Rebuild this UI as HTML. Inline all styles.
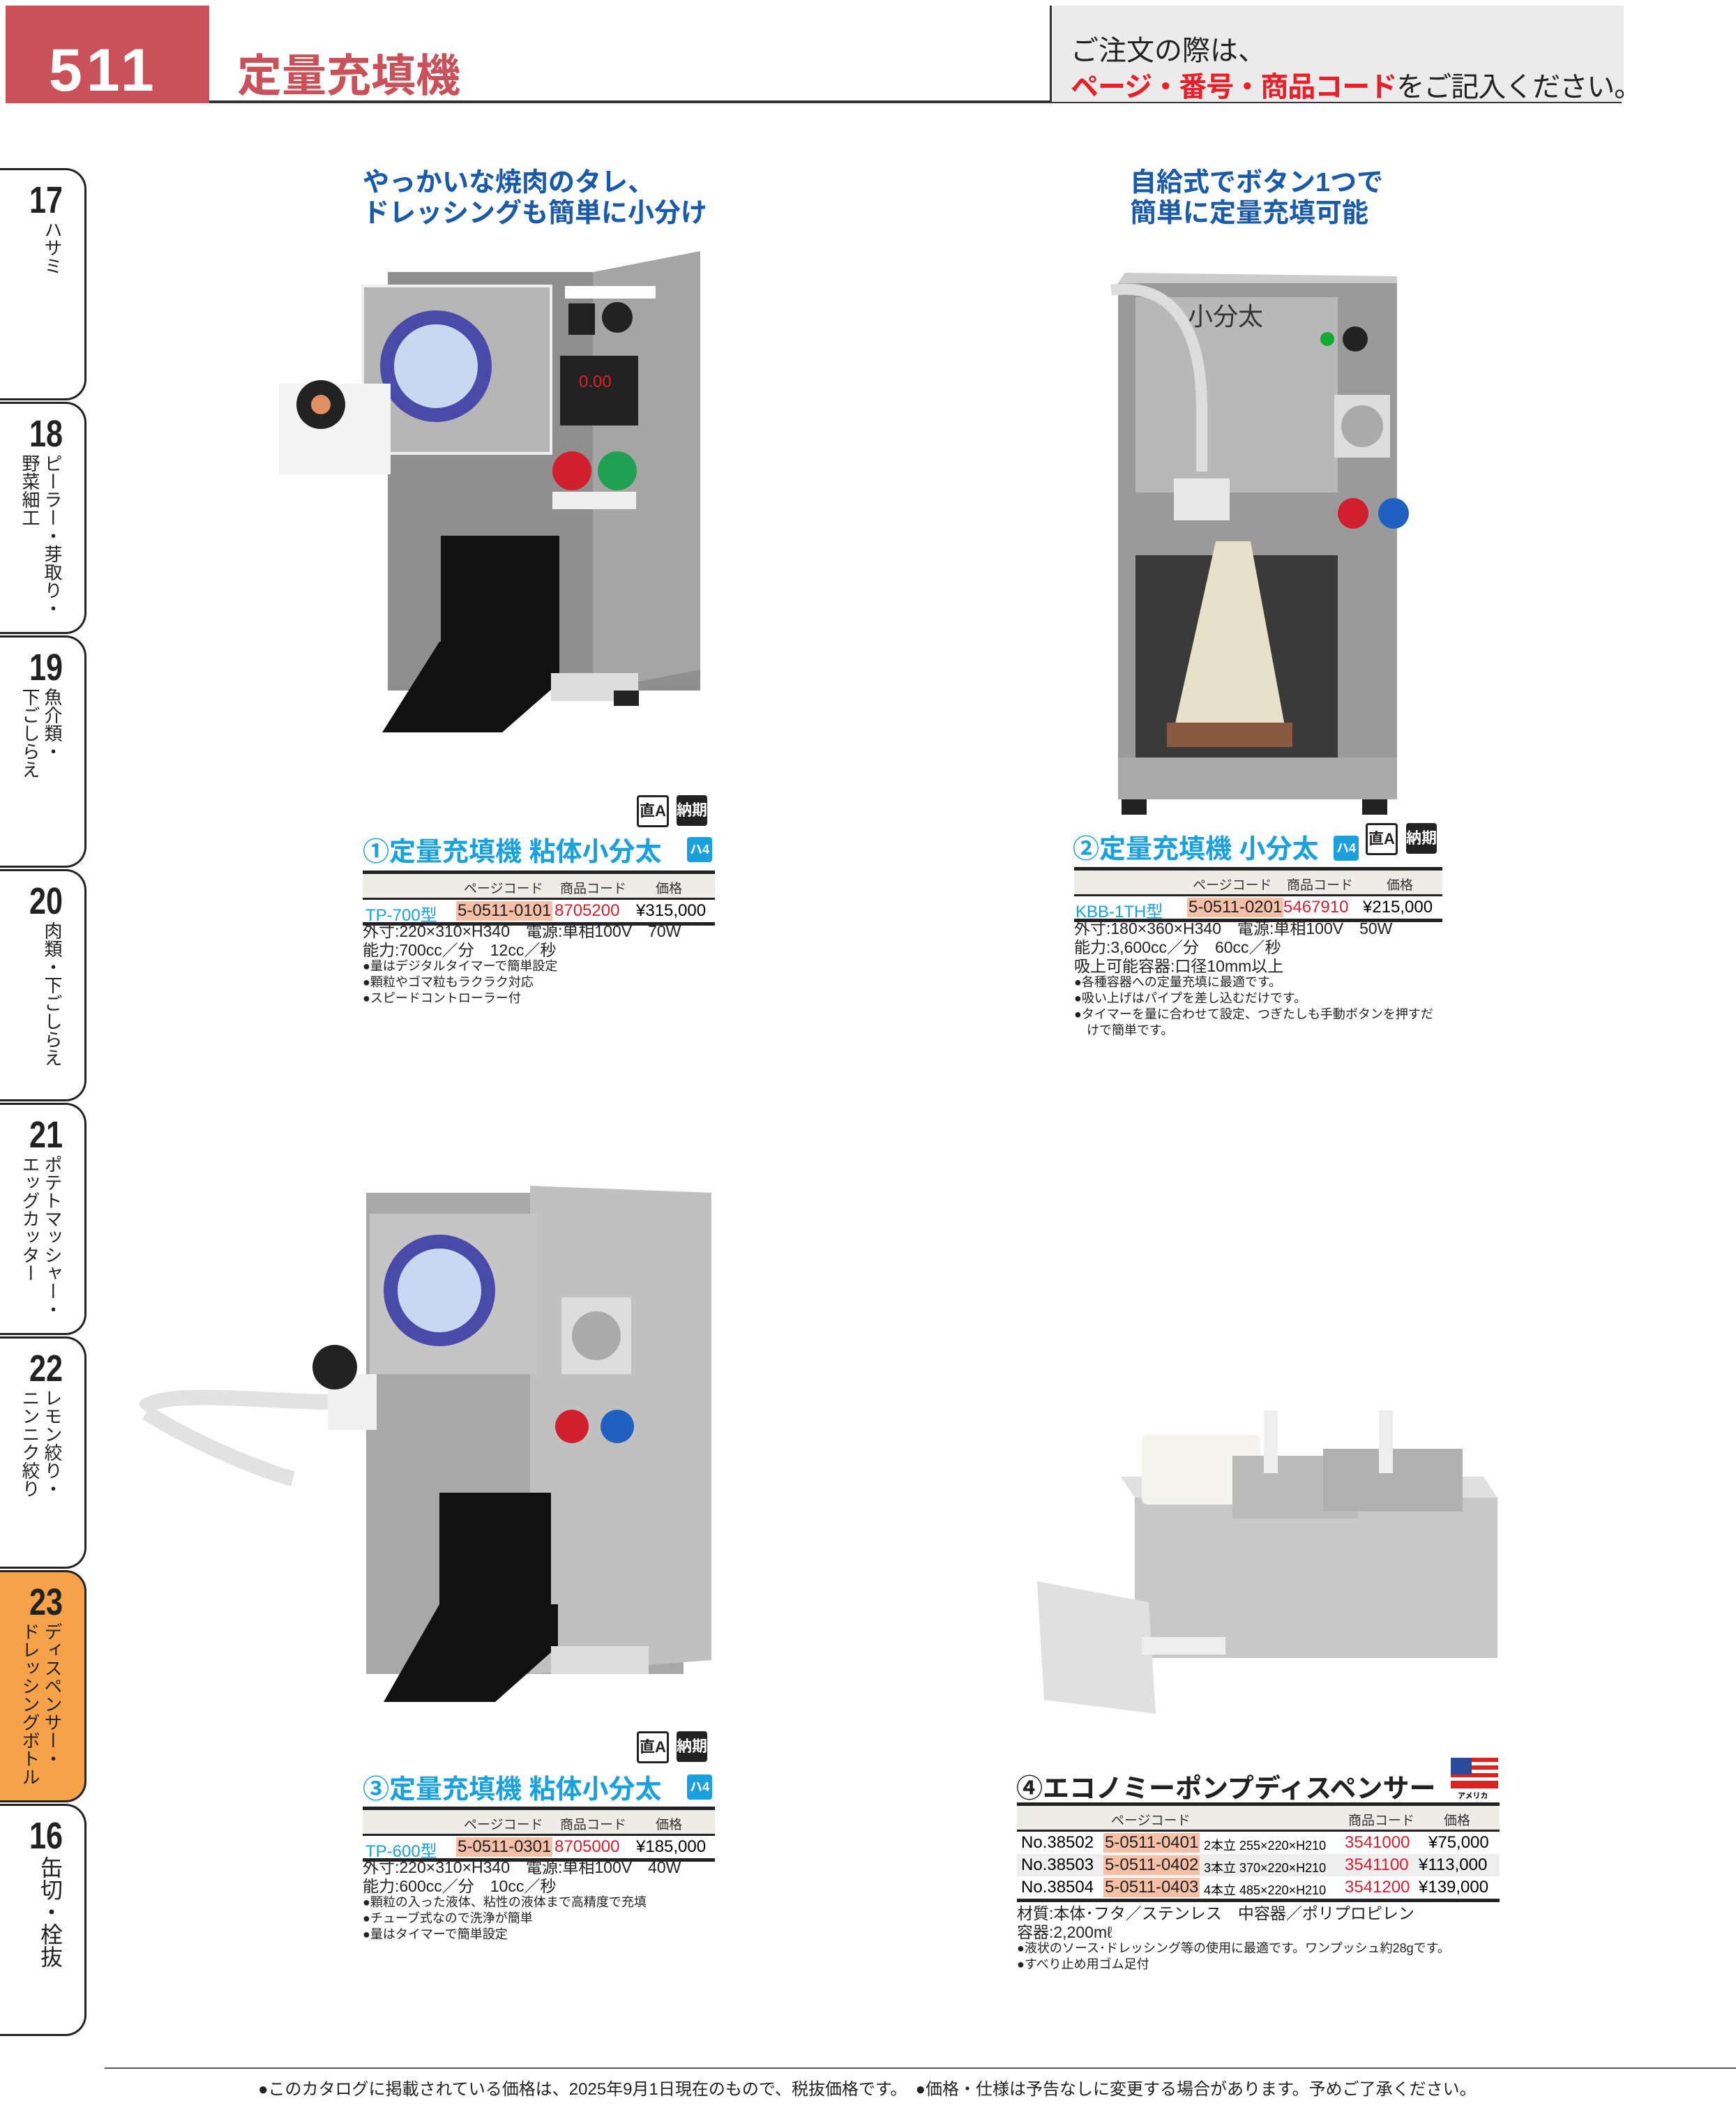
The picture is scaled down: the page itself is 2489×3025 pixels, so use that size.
<!DOCTYPE html>
<html><head><meta charset="utf-8"><style>
body{margin:0;width:2489px;height:3025px;background:#fff;position:relative;overflow:hidden;font-family:"Liberation Sans","Noto Sans CJK JP",sans-serif;}
.a{position:absolute;white-space:nowrap;}
.tab{position:absolute;left:0;width:124px;height:333px;border:3px solid #222;border-left:none;border-radius:0 30px 30px 0;box-sizing:border-box;background:#fff;}
.tab .n{position:absolute;left:42px;top:12px;font-size:54px;font-weight:bold;color:#222;transform:scaleX(.8);transform-origin:left;}
.tab .t{position:absolute;top:72px;right:30px;font-size:26px;color:#222;writing-mode:vertical-rl;line-height:32px;white-space:nowrap;}
.blue{color:#1a5aa8;}
.cy{color:#1aa0dc;}
.hd{font-size:38px;font-weight:bold;line-height:44px;}
.tt{font-size:38px;font-weight:bold;color:#1aa0dc;}
.tbl{position:absolute;border-top:5px solid #222;}
.th{background:#eeece6;height:34px;font-size:19px;color:#333;position:relative;}
.tr{position:relative;height:32px;font-size:24px;}
.bl{border-bottom:5px solid #222;}
.pc{background:#f5bfa8;color:#222;padding:0 2px;}
.red{color:#d42030;}
.sp{font-size:23px;line-height:27px;color:#222;}
.sp2{font-size:18px;line-height:23px;color:#222;}
.ic{position:absolute;width:44px;height:44px;background:#222;color:#fff;font-size:22px;font-weight:bold;text-align:center;line-height:44px;border-radius:4px;}
</style></head><body>

<!-- header -->
<div class="a" style="left:8px;top:8px;width:292px;height:140px;background:#c8515a;"></div>
<div class="a" style="left:70px;top:52px;font-size:86px;font-weight:bold;color:#fff;letter-spacing:6px;">511</div>
<div class="a" style="left:340px;top:58px;font-size:64px;font-weight:bold;color:#c8515a;">定量充填機</div>
<div class="a" style="left:300px;top:144px;width:2025px;height:4px;background:#333;"></div>
<div class="a" style="left:1505px;top:8px;width:820px;height:138px;background:#ebebeb;border-left:3px solid #333;"></div>
<div class="a" style="left:1535px;top:40px;font-size:40px;color:#222;">ご注文の際は、</div>
<div class="a" style="left:1535px;top:92px;font-size:40px;color:#222;letter-spacing:-1px;"><span style="color:#e8202a;font-weight:bold;">ページ・番号・商品コード</span>をご記入ください。</div>

<!-- tabs -->
<div class="tab" style="top:241px;"><div class="n">17</div><div class="t">ハサミ</div></div>
<div class="tab" style="top:576px;"><div class="n">18</div><div class="t">ピーラー・芽取り・<br>野菜細工</div></div>
<div class="tab" style="top:911px;"><div class="n">19</div><div class="t">魚介類・<br>下ごしらえ</div></div>
<div class="tab" style="top:1246px;"><div class="n">20</div><div class="t">肉類・下ごしらえ</div></div>
<div class="tab" style="top:1581px;"><div class="n">21</div><div class="t">ポテトマッシャー・<br>エッグカッター</div></div>
<div class="tab" style="top:1916px;"><div class="n">22</div><div class="t">レモン絞り・<br>ニンニク絞り</div></div>
<div class="tab" style="top:2251px;background:#f5a24a;"><div class="n">23</div><div class="t">ディスペンサー・<br>ドレッシングボトル</div></div>
<div class="tab" style="top:2586px;"><div class="n">16</div><div class="t" style="font-size:32px;line-height:38px;">缶切・栓抜</div></div>

<!-- headlines -->
<div class="a hd blue" style="left:520px;top:240px;">やっかいな焼肉のタレ、<br>ドレッシングも簡単に小分け</div>
<div class="a hd blue" style="left:1620px;top:240px;">自給式でボタン1つで<br>簡単に定量充填可能</div>

<!-- machine 1 -->
<svg class="a" style="left:400px;top:360px;" width="680" height="780">
<rect x="156" y="30" width="448" height="600" fill="#8f8f8f"/>
<polygon points="450,30 604,0 604,600 450,630" fill="#a5a5a5"/>
<rect x="120" y="50" width="270" height="240" fill="#b5b5b5" stroke="#eee" stroke-width="4"/>
<circle cx="225" cy="165" r="80" fill="#4a4aa8"/><circle cx="225" cy="165" r="60" fill="#c8d8f0"/>
<rect x="410" y="50" width="130" height="18" fill="#fff"/>
<rect x="415" y="75" width="38" height="45" fill="#222"/><circle cx="485" cy="95" r="22" fill="#222"/>
<rect x="403" y="150" width="112" height="100" fill="#222"/><text x="430" y="195" fill="#e02020" font-size="24" font-family="Liberation Sans">0.00</text>
<circle cx="420" cy="315" r="28" fill="#d02030"/><circle cx="485" cy="315" r="28" fill="#20a050"/>
<rect x="392" y="345" width="120" height="25" fill="#eee"/>
<rect x="0" y="190" width="160" height="130" fill="#f4f4f4"/>
<circle cx="60" cy="220" r="35" fill="#222"/><circle cx="60" cy="220" r="14" fill="#e09060"/>
<rect x="232" y="408" width="170" height="210" fill="#111"/>
<polygon points="230,560 400,560 400,620 320,690 148,690" fill="#111"/>
<rect x="390" y="605" width="125" height="40" fill="#ddd"/>
<rect x="480" y="630" width="36" height="22" fill="#222"/>
</svg>
<div class="ic" style="left:913px;top:1140px;background:#fff;color:#222;border:3px solid #222;width:40px;height:40px;line-height:40px;">直A</div>
<div class="ic" style="left:970px;top:1140px;">納期</div>

<!-- product 1 -->
<div class="a tt" style="left:520px;top:1190px;">①定量充填機 粘体小分太</div>
<div class="ic" style="left:985px;top:1200px;width:36px;height:36px;line-height:36px;background:#1aa0dc;font-size:18px;">ハ4</div>
<div class="tbl" style="left:520px;top:1248px;width:505px;">
<div class="th"><span class="a" style="left:145px;top:6px;">ページコード</span><span class="a" style="left:283px;top:6px;">商品コード</span><span class="a" style="left:420px;top:6px;">価格</span></div>
<div class="tr bl" style="border-top:3px solid #222;"><span class="a cy" style="left:4px;top:2px;">TP-700型</span><span class="a pc" style="left:134px;top:2px;">5-0511-0101</span><span class="a red" style="left:275px;top:2px;">8705200</span><span class="a" style="left:392px;top:2px;">¥315,000</span></div>
</div>
<div class="a sp" style="left:520px;top:1322px;">外寸:220×310×H340　電源:単相100V　70W<br>能力:700cc／分　12cc／秒</div>
<div class="a sp2" style="left:520px;top:1374px;">●量はデジタルタイマーで簡単設定<br>●顆粒やゴマ粒もラクラク対応<br>●スピードコントローラー付</div>

<!-- machine 2 -->
<svg class="a" style="left:1553px;top:386px;" width="500" height="790">
<rect x="50" y="20" width="400" height="740" fill="#9a9a9a"/>
<polygon points="50,20 60,5 450,10 450,20" fill="#ccc"/>
<rect x="75" y="40" width="290" height="280" fill="#b8b8b8"/>
<text x="150" y="80" font-size="36" fill="#333" font-family="Noto Sans CJK JP">小分太</text>
<path d="M40,30 C110,20 170,60 170,200 L170,290" stroke="#ddd" stroke-width="16" fill="none"/>
<rect x="130" y="300" width="80" height="60" fill="#e8e8e8"/>
<circle cx="390" cy="100" r="18" fill="#222"/><circle cx="350" cy="100" r="10" fill="#1a3"/>
<rect x="360" y="180" width="80" height="90" fill="#ddd"/><circle cx="400" cy="225" r="30" fill="#aaa"/>
<circle cx="387" cy="350" r="22" fill="#d02030"/><circle cx="445" cy="350" r="22" fill="#2060c0"/>
<rect x="75" y="410" width="290" height="290" fill="#3a3a3a"/>
<polygon points="190,390 240,390 290,660 130,660" fill="#e8e0c8"/>
<rect x="120" y="650" width="180" height="35" fill="#8a5a40"/>
<rect x="50" y="700" width="400" height="60" fill="#aaa"/>
<rect x="55" y="760" width="36" height="22" fill="#222"/><rect x="400" y="760" width="36" height="22" fill="#222"/>
</svg>

<!-- product 2 -->
<div class="a tt" style="left:1538px;top:1186px;">②定量充填機 小分太</div>
<div class="ic" style="left:1912px;top:1198px;width:36px;height:36px;line-height:36px;background:#1aa0dc;font-size:18px;">ハ4</div>
<div class="ic" style="left:1958px;top:1180px;background:#fff;color:#222;border:3px solid #222;width:40px;height:40px;line-height:40px;">直A</div>
<div class="ic" style="left:2016px;top:1180px;">納期</div>
<div class="tbl" style="left:1540px;top:1243px;width:528px;">
<div class="th"><span class="a" style="left:170px;top:6px;">ページコード</span><span class="a" style="left:305px;top:6px;">商品コード</span><span class="a" style="left:448px;top:6px;">価格</span></div>
<div class="tr bl" style="border-top:3px solid #222;"><span class="a cy" style="left:2px;top:2px;">KBB-1TH型</span><span class="a pc" style="left:162px;top:2px;">5-0511-0201</span><span class="a red" style="left:300px;top:2px;">5467910</span><span class="a" style="left:414px;top:2px;">¥215,000</span></div>
</div>
<div class="a sp" style="left:1540px;top:1318px;">外寸:180×360×H340　電源:単相100V　50W<br>能力:3,600cc／分　60cc／秒<br>吸上可能容器:口径10mm以上</div>
<div class="a sp2" style="left:1540px;top:1397px;">●各種容器への定量充填に最適です。<br>●吸い上げはパイプを差し込むだけです。<br>●タイマーを量に合わせて設定、つぎたしも手動ボタンを押すだ<br>　けで簡単です。</div>

<!-- machine 3 -->
<svg class="a" style="left:200px;top:1680px;" width="870" height="790">
<rect x="325" y="30" width="455" height="690" fill="#a8a8a8"/>
<polygon points="560,20 820,30 820,700 560,720" fill="#c0c0c0"/>
<rect x="330" y="60" width="240" height="230" fill="#c5c5c5"/>
<circle cx="430" cy="170" r="80" fill="#4a4aa8"/><circle cx="430" cy="170" r="60" fill="#c8d8f0"/>
<rect x="605" y="180" width="100" height="110" fill="#ddd"/><circle cx="655" cy="235" r="35" fill="#aaa"/>
<circle cx="620" cy="365" r="24" fill="#d02030"/><circle cx="685" cy="365" r="24" fill="#2060c0"/>
<path d="M5,340 C30,310 180,330 280,330" stroke="#e2e2e2" stroke-width="22" fill="none"/>
<path d="M10,345 C80,390 180,430 220,440" stroke="#e2e2e2" stroke-width="22" fill="none"/>
<rect x="270" y="290" width="70" height="80" fill="#f0f0f0"/>
<circle cx="280" cy="280" r="32" fill="#222"/>
<rect x="430" y="460" width="160" height="200" fill="#111"/>
<polygon points="430,620 600,620 600,680 510,760 350,760" fill="#111"/>
<rect x="590" y="680" width="140" height="40" fill="#ddd"/>
</svg>
<div class="ic" style="left:913px;top:2482px;background:#fff;color:#222;border:3px solid #222;width:40px;height:40px;line-height:40px;">直A</div>
<div class="ic" style="left:970px;top:2482px;">納期</div>

<!-- product 3 -->
<div class="a tt" style="left:520px;top:2534px;">③定量充填機 粘体小分太</div>
<div class="ic" style="left:985px;top:2544px;width:36px;height:36px;line-height:36px;background:#1aa0dc;font-size:18px;">ハ4</div>
<div class="tbl" style="left:520px;top:2590px;width:505px;">
<div class="th"><span class="a" style="left:145px;top:6px;">ページコード</span><span class="a" style="left:283px;top:6px;">商品コード</span><span class="a" style="left:420px;top:6px;">価格</span></div>
<div class="tr bl" style="border-top:3px solid #222;"><span class="a cy" style="left:4px;top:2px;">TP-600型</span><span class="a pc" style="left:134px;top:2px;">5-0511-0301</span><span class="a red" style="left:275px;top:2px;">8705000</span><span class="a" style="left:392px;top:2px;">¥185,000</span></div>
</div>
<div class="a sp" style="left:520px;top:2664px;">外寸:220×310×H340　電源:単相100V　40W<br>能力:600cc／分　10cc／秒</div>
<div class="a sp2" style="left:520px;top:2716px;">●顆粒の入った液体、粘性の液体まで高精度で充填<br>●チューブ式なので洗浄が簡単<br>●量はタイマーで簡単設定</div>

<!-- dispenser -->
<svg class="a" style="left:1467px;top:2017px;" width="680" height="500">
<polygon points="140,100 660,100 680,130 160,130" fill="#e0e0e0"/>
<rect x="160" y="130" width="520" height="230" fill="#c8c8c8"/>
<rect x="170" y="40" width="170" height="100" fill="#f4f4ec" rx="8"/>
<rect x="300" y="70" width="180" height="90" fill="#bbb"/>
<rect x="430" y="60" width="200" height="90" fill="#b0b0b0"/>
<rect x="345" y="5" width="20" height="90" fill="#eee"/><rect x="510" y="5" width="20" height="90" fill="#eee"/>
<polygon points="20,250 180,280 190,440 30,420" fill="#e0e0e0"/>
<rect x="170" y="330" width="120" height="25" fill="#eee"/>
</svg>

<!-- product 4 -->
<div class="a" style="left:1457px;top:2533px;font-size:38px;font-weight:bold;color:#222;">④エコノミーポンプディスペンサー</div>
<svg class="a" style="left:2080px;top:2520px;" width="70" height="60"><rect width="68" height="44" fill="#d22"/><rect y="6" width="68" height="5" fill="#fff"/><rect y="17" width="68" height="5" fill="#fff"/><rect y="28" width="68" height="5" fill="#fff"/><rect width="30" height="24" fill="#2a4a9a"/><text x="10" y="58" font-size="11" font-weight="bold" font-family="Noto Sans CJK JP">アメリカ</text></svg>
<div class="tbl" style="left:1458px;top:2584px;width:692px;">
<div class="th"><span class="a" style="left:135px;top:6px;">ページコード</span><span class="a" style="left:475px;top:6px;">商品コード</span><span class="a" style="left:612px;top:6px;">価格</span></div>
<div class="bl" style="border-top:3px solid #222;">
<div class="tr"><span class="a" style="left:6px;top:2px;">No.38502</span><span class="a pc" style="left:124px;top:2px;">5-0511-0401</span><span class="a" style="left:268px;top:6px;font-size:18px;">2本立 255×220×H210</span><span class="a red" style="left:470px;top:2px;">3541000</span><span class="a" style="left:590px;top:2px;">¥75,000</span></div>
<div class="tr" style="background:#eee;"><span class="a" style="left:6px;top:2px;">No.38503</span><span class="a pc" style="left:124px;top:2px;">5-0511-0402</span><span class="a" style="left:268px;top:6px;font-size:18px;">3本立 370×220×H210</span><span class="a red" style="left:470px;top:2px;">3541100</span><span class="a" style="left:576px;top:2px;">¥113,000</span></div>
<div class="tr"><span class="a" style="left:6px;top:2px;">No.38504</span><span class="a pc" style="left:124px;top:2px;">5-0511-0403</span><span class="a" style="left:268px;top:6px;font-size:18px;">4本立 485×220×H210</span><span class="a red" style="left:470px;top:2px;">3541200</span><span class="a" style="left:576px;top:2px;">¥139,000</span></div>
</div></div>
<div class="a sp" style="left:1458px;top:2730px;">材質:本体･フタ／ステンレス　中容器／ポリプロピレン<br>容器:2,200mℓ</div>
<div class="a sp2" style="left:1458px;top:2782px;">●液状のソース･ドレッシング等の使用に最適です。ワンプッシュ約28gです。<br>●すべり止め用ゴム足付</div>

<!-- footer -->
<div class="a" style="left:150px;top:2964px;width:2339px;height:2px;background:#555;"></div>
<div class="a" style="left:370px;top:2975px;font-size:24px;color:#222;">●このカタログに掲載されている価格は、2025年9月1日現在のもので、税抜価格です。　●価格・仕様は予告なしに変更する場合があります。予めご了承ください。</div>
</body></html>
